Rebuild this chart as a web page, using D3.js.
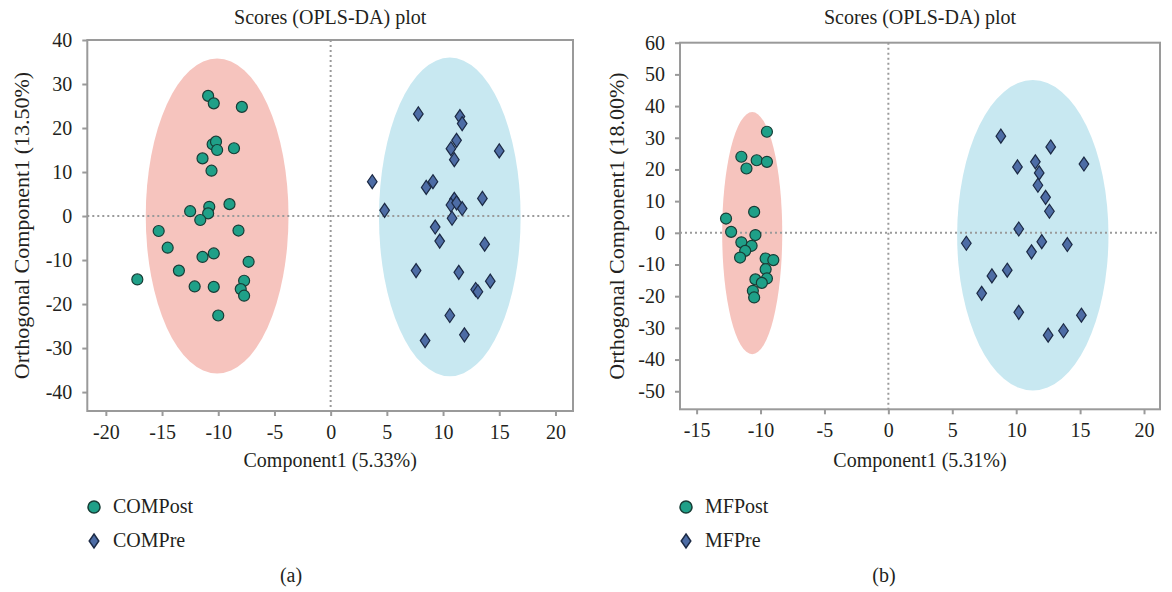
<!DOCTYPE html>
<html>
<head>
<meta charset="utf-8">
<script src="https://cdn.jsdelivr.net/npm/d3@7"></script>
<style>
  body { margin: 0; background: #fff; }
  svg text { font-family: "Liberation Serif", "Times New Roman", serif !important; fill: #231f20; }
</style>
</head>
<body>
<div id="chart"></div>
<script>
// scores
const compPostX = [-10.9, -10.4, -7.9, -10.5, -10.2, -10.1, -8.6, -11.4, -10.6, -9.0, -10.8, -12.5, -10.9, -11.6, -15.3, -8.2, -14.5, -10.4, -11.4, -7.3, -13.5, -17.2, -7.7, -12.1, -10.4, -8.0, -7.7, -10.0];
const compPostY = [27.3, 25.6, 24.8, 16.3, 16.9, 15.0, 15.4, 13.1, 10.3, 2.7, 2.1, 1.1, 0.6, -0.9, -3.4, -3.3, -7.2, -8.5, -9.3, -10.4, -12.4, -14.4, -14.7, -16.0, -16.1, -16.6, -18.1, -22.6];
const compPreX = [7.8, 11.5, 11.7, 11.2, 10.7, 15.0, 11.0, 3.7, 9.1, 8.5, 11.0, 13.5, 10.7, 11.7, 11.2, 4.8, 10.8, 9.3, 9.7, 13.7, 7.6, 11.4, 14.2, 12.9, 13.1, 10.6, 8.4, 11.9];
const compPreY = [23.2, 22.6, 21.0, 17.2, 15.3, 14.8, 12.8, 7.8, 7.8, 6.5, 3.8, 4.0, 2.5, 1.7, 3.0, 1.3, -0.5, -2.5, -5.7, -6.4, -12.4, -12.8, -14.8, -16.7, -17.2, -22.6, -28.3, -27.0];

const mfPostX = [-9.5, -11.5, -11.1, -10.3, -9.5, -10.5, -12.7, -12.3, -10.4, -11.5, -10.7, -11.2, -11.6, -9.6, -9.0, -9.6, -9.5, -10.4, -9.9, -10.6, -10.5];
const mfPostY = [31.9, 24.0, 20.3, 22.9, 22.4, 6.6, 4.5, 0.3, -0.7, -3.0, -4.1, -5.7, -7.8, -8.1, -8.6, -11.5, -14.4, -14.7, -15.8, -18.3, -20.4];
const mfPreX = [8.8, 12.7, 10.1, 11.5, 11.8, 11.7, 15.3, 12.3, 12.6, 10.2, 6.1, 12.0, 11.2, 14.0, 9.3, 8.1, 7.3, 10.2, 15.1, 13.7, 12.5];
const mfPreY = [30.5, 27.1, 20.8, 22.4, 18.9, 15.0, 21.7, 11.2, 6.8, 1.2, -3.3, -2.8, -6.0, -3.7, -11.8, -13.6, -19.1, -25.1, -26.0, -30.9, -32.3];

// group ellipses: centre x, centre y, half width, half height (data units)
const compPostEllipse = [-10.1, 0, 6.35, 35.8];
const compPreEllipse = [10.6, -0.2, 6.3, 36.2];
const mfPostEllipse = [-10.65, -0.1, 2.35, 38.2];
const mfPreEllipse = [11.3, -0.8, 5.92, 49];

// ticks
const leftXTicks = [-20, -15, -10, -5, 0, 5, 10, 15, 20];
const leftYTicks = [-40, -30, -20, -10, 0, 10, 20, 30, 40];
const rightXTicks = [-15, -10, -5, 0, 5, 10, 15, 20];
const rightYTicks = [-50, -40, -30, -20, -10, 0, 10, 20, 30, 40, 50, 60];

const svg = d3.select("#chart").append("svg")
    .attr("width", 1172)
    .attr("height", 592);

const grey = "#9a9a9a";
const font = "'Liberation Serif', 'Times New Roman', serif";
const diamond = "M0,-7L4.8,0L0,7L-4.8,0Z";

function drawPanel(p) {
    const x = d3.scaleLinear().domain(p.xDomain).range([p.left, p.right]);
    const y = d3.scaleLinear().domain(p.yDomain).range([p.bottom, p.top]);
    const g = svg.append("g");

    // ellipses
    g.append("ellipse")
        .attr("cx", x(p.postEll[0])).attr("cy", y(p.postEll[1]))
        .attr("rx", x(p.postEll[2]) - x(0)).attr("ry", y(0) - y(p.postEll[3]))
        .attr("fill", "#f6c4be");
    g.append("ellipse")
        .attr("cx", x(p.preEll[0])).attr("cy", y(p.preEll[1]))
        .attr("rx", x(p.preEll[2]) - x(0)).attr("ry", y(0) - y(p.preEll[3]))
        .attr("fill", "#c8e8f1");

    // zero lines
    g.append("line")
        .attr("x1", p.left).attr("x2", p.right)
        .attr("y1", y(0)).attr("y2", y(0))
        .attr("stroke", grey).attr("stroke-width", 2).attr("stroke-dasharray", "2,3");
    g.append("line")
        .attr("x1", x(0)).attr("x2", x(0))
        .attr("y1", p.top).attr("y2", p.bottom)
        .attr("stroke", grey).attr("stroke-width", 2).attr("stroke-dasharray", "2,3");

    // points
    g.selectAll(".pre")
        .data(p.preX.map((d, i) => [d, p.preY[i]]))
        .enter().append("path")
        .attr("d", diamond)
        .attr("transform", d => `translate(${x(d[0])},${y(d[1])})`)
        .attr("fill", "#4d6ca5")
        .attr("stroke", "#1c2a45")
        .attr("stroke-width", 1.2);

    g.selectAll(".post")
        .data(p.postX.map((d, i) => [d, p.postY[i]]))
        .enter().append("circle")
        .attr("cx", d => x(d[0]))
        .attr("cy", d => y(d[1]))
        .attr("r", 5.5)
        .attr("fill", "#1fa088")
        .attr("stroke", "#173d36")
        .attr("stroke-width", 1.2);

    // frame
    g.append("rect")
        .attr("x", p.left).attr("y", p.top)
        .attr("width", p.right - p.left).attr("height", p.bottom - p.top)
        .attr("fill", "none").attr("stroke", grey).attr("stroke-width", 2);

    // axes, hyphen minus like the original
    const fmt = d => String(d);
    const xAxis = g.append("g")
        .attr("transform", `translate(0,${p.bottom})`)
        .call(d3.axisBottom(x).tickValues(p.xTicks).tickFormat(fmt).tickSize(5).tickPadding(9));
    const yAxis = g.append("g")
        .attr("transform", `translate(${p.left},0)`)
        .call(d3.axisLeft(y).tickValues(p.yTicks).tickFormat(fmt).tickSize(5).tickPadding(10));
    [xAxis, yAxis].forEach(a => {
        a.attr("font-family", font).attr("font-size", 20);
        a.select(".domain").remove();
        a.selectAll("line").attr("stroke", grey).attr("stroke-width", 2);
        a.selectAll("text").style("font-family", font).style("font-size", "20px").attr("fill", "#231f20");
    });

    const cx = (p.left + p.right) / 2;
    g.append("text")
        .attr("x", cx).attr("y", 24)
        .attr("text-anchor", "middle")
        .style("font-size", "20px")
        .text("Scores (OPLS-DA) plot");
    g.append("text")
        .attr("x", cx).attr("y", 467)
        .attr("text-anchor", "middle")
        .style("font-size", "20px")
        .text(p.xLabel);
    g.append("text")
        .attr("transform", `translate(${p.yLabelX},${(p.top + p.bottom) / 2}) rotate(-90)`)
        .attr("text-anchor", "middle")
        .style("font-size", "22px")
        .text(p.yLabel);

    // legend
    const lg = g.append("g").attr("transform", `translate(${p.legendX},0)`);
    lg.append("circle")
        .attr("cx", 0).attr("cy", 507).attr("r", 6)
        .attr("fill", "#1fa088").attr("stroke", "#173d36").attr("stroke-width", 1.5);
    lg.append("path")
        .attr("d", diamond)
        .attr("transform", "translate(0,541)")
        .attr("fill", "#4d6ca5").attr("stroke", "#1c2a45").attr("stroke-width", 1.5);
    lg.append("text").attr("x", 19).attr("y", 513).style("font-size", "20px").text(p.postName);
    lg.append("text").attr("x", 19).attr("y", 547).style("font-size", "20px").text(p.preName);

    g.append("text")
        .attr("x", p.captionX).attr("y", 582)
        .attr("text-anchor", "middle")
        .style("font-size", "20px")
        .text(p.caption);
}

drawPanel({
    left: 87.3, right: 573, top: 40, bottom: 411,
    xDomain: [-21.65, 21.56], yDomain: [-44.3, 40],
    xTicks: leftXTicks, yTicks: leftYTicks,
    postX: compPostX, postY: compPostY, preX: compPreX, preY: compPreY,
    postEll: compPostEllipse, preEll: compPreEllipse,
    xLabel: "Component1 (5.33%)", yLabel: "Orthogonal Component1 (13.50%)",
    yLabelX: 29, legendX: 94, postName: "COMPost", preName: "COMPre",
    caption: "(a)", captionX: 291
});

drawPanel({
    left: 680, right: 1160, top: 42.7, bottom: 409.3,
    xDomain: [-16.3, 21.25], yDomain: [-55.7, 60],
    xTicks: rightXTicks, yTicks: rightYTicks,
    postX: mfPostX, postY: mfPostY, preX: mfPreX, preY: mfPreY,
    postEll: mfPostEllipse, preEll: mfPreEllipse,
    xLabel: "Component1 (5.31%)", yLabel: "Orthogonal Component1 (18.00%)",
    yLabelX: 624, legendX: 686, postName: "MFPost", preName: "MFPre",
    caption: "(b)", captionX: 884
});
</script>
</body>
</html>
